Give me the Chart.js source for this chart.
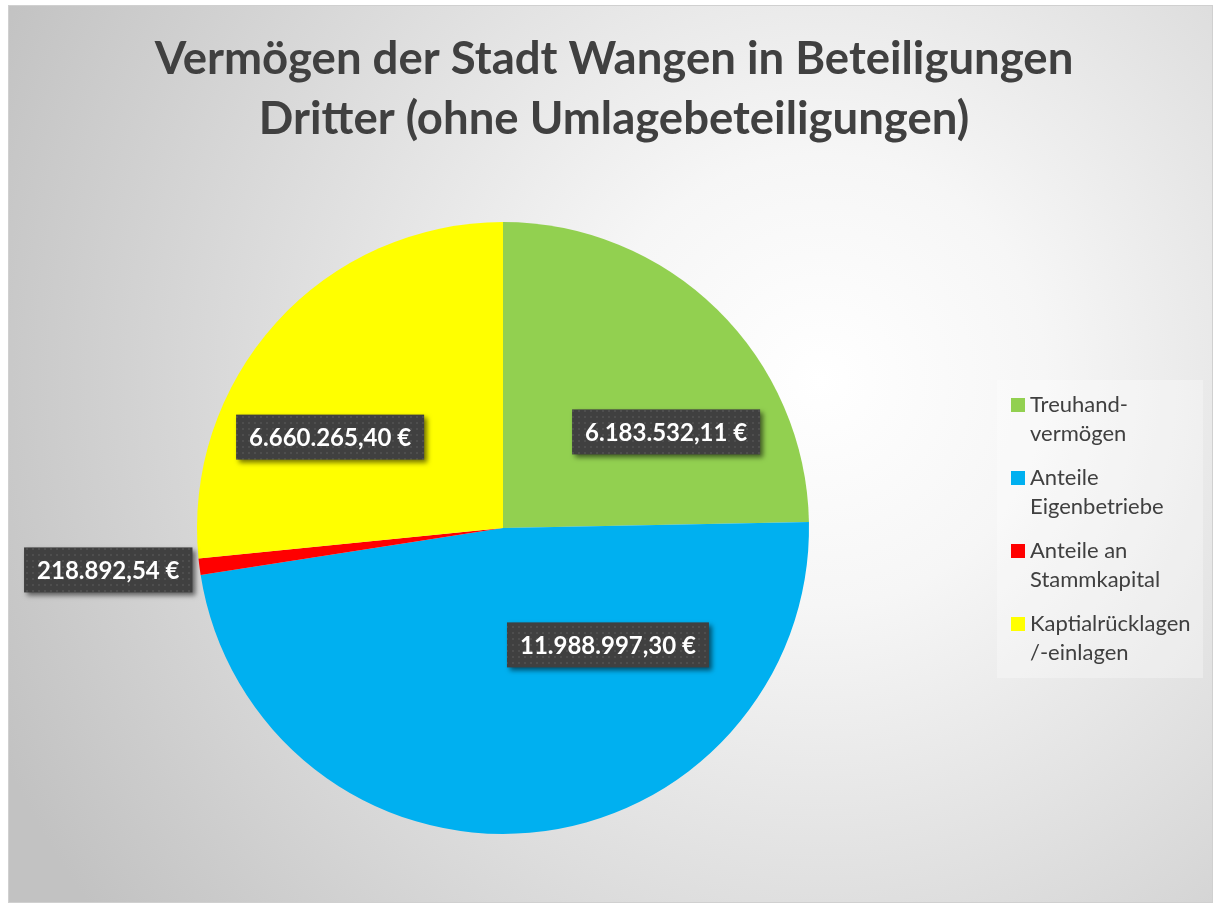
<!DOCTYPE html>
<html>
<head>
<meta charset="utf-8">
<script src="https://cdn.jsdelivr.net/npm/chart.js@4/dist/chart.umd.min.js"></script>
<style>
  html, body { margin: 0; padding: 0; background: #fff; }
  #wrap { width: 1215px; height: 906px; position: relative; }
</style>
</head>
<body>
<div id="wrap"><canvas id="pie"></canvas></div>
<script>
// chart data
var titleLines = ['Vermögen der Stadt Wangen in Beteiligungen', 'Dritter (ohne Umlagebeteiligungen)'];
var categories = [['Treuhand-', 'vermögen'], ['Anteile', 'Eigenbetriebe'], ['Anteile an', 'Stammkapital'], ['Kaptialrücklagen', '/-einlagen']];
var values = [6183532.11, 11988997.30, 218892.54, 6660265.40];
var colors = ['#92d050', '#00b0f0', '#ff0000', '#ffff00'];

// where each value label sits, relative to the pie centre, in radius units
var labelSpots = [[0.533, -0.314], [0.343, 0.382], [-1.29, 0.137], [-0.565, -0.297]];

function euro(v) {
    var parts = v.toFixed(2).split('.');
    var whole = parts[0].replace(/\B(?=(\d{3})+(?!\d))/g, '.');
    return whole + ',' + parts[1] + ' €';
}

var dotPattern = (function () {
    var c = document.createElement('canvas');
    c.width = 6; c.height = 6;
    var g = c.getContext('2d');
    g.fillStyle = '#404040';
    g.fillRect(0, 0, 6, 6);
    g.fillStyle = '#4e4e4e';
    g.fillRect(2, 2, 2, 2);
    return c;
})();

var backdrop = {
    id: 'backdrop',
    beforeDraw: function (chart) {
        var ctx = chart.ctx;
        ctx.save();
        ctx.fillStyle = '#ffffff';
        ctx.fillRect(0, 0, chart.width, chart.height);
        var grad = ctx.createRadialGradient(820, 380, 0, 820, 380, 900);
        grad.addColorStop(0, '#ffffff');
        grad.addColorStop(0.25, '#f6f6f6');
        grad.addColorStop(1, '#c2c2c2');
        ctx.fillStyle = grad;
        ctx.fillRect(8, 5, 1205, 898);
        ctx.strokeStyle = '#d0d0d0';
        ctx.lineWidth = 1;
        ctx.strokeRect(8.5, 5.5, 1204, 897);

        // title
        ctx.fillStyle = '#404040';
        ctx.font = 'bold 45.5px Lato';
        ctx.textAlign = 'center';
        ctx.textBaseline = 'middle';
        titleLines.forEach(function (t, i) {
            ctx.fillText(t, 614, 59 + i * 60);
        });
        ctx.restore();
    }
};

var valueLabels = {
    id: 'valueLabels',
    afterDraw: function (chart) {
        var ctx = chart.ctx;
        var meta = chart.getDatasetMeta(0);
        var pat = ctx.createPattern(dotPattern, 'repeat');
        ctx.save();
        ctx.font = 'bold 24px Lato';
        ctx.textAlign = 'center';
        ctx.textBaseline = 'middle';
        meta.data.forEach(function (arc, i) {
            var r = arc.outerRadius;
            var cx = arc.x + labelSpots[i][0] * r;
            var cy = arc.y + labelSpots[i][1] * r;
            var txt = euro(values[i]);
            var w = ctx.measureText(txt).width + 26;
            var h = 45;
            ctx.save();
            ctx.shadowColor = 'rgba(0,0,0,0.55)';
            ctx.shadowBlur = 5;
            ctx.shadowOffsetX = 3;
            ctx.shadowOffsetY = 3;
            ctx.fillStyle = pat;
            ctx.fillRect(cx - w / 2, cy - h / 2, w, h);
            ctx.restore();
            ctx.fillStyle = '#ffffff';
            ctx.fillText(txt, cx, cy + 1);
        });
        ctx.restore();
    }
};

var sideLegend = {
    id: 'sideLegend',
    afterDraw: function (chart) {
        var ctx = chart.ctx;
        ctx.save();
        ctx.fillStyle = 'rgba(255,255,255,0.3)';
        ctx.fillRect(997, 380, 206, 298);
        ctx.font = '22px Lato';
        ctx.textAlign = 'left';
        ctx.textBaseline = 'middle';
        chart.data.labels.forEach(function (lines, i) {
            var y = 405 + i * 73;
            ctx.fillStyle = chart.data.datasets[0].backgroundColor[i];
            ctx.fillRect(1011, y - 7, 14, 14);
            ctx.fillStyle = '#404040';
            lines.forEach(function (l, j) {
                ctx.fillText(l, 1030, y + j * 29);
            });
        });
        ctx.restore();
    }
};

var ctx = document.getElementById('pie').getContext('2d');
window.chart = new Chart(ctx, {
    type: 'pie',
    data: {
        labels: categories,
        datasets: [{
            data: values,
            backgroundColor: colors,
            borderWidth: 0
        }]
    },
    options: {
        responsive: true,
        maintainAspectRatio: false,
        animation: false,
        layout: {
            padding: { top: 222, left: 197, right: 406, bottom: 72 }
        },
        plugins: {
            legend: { display: false },
            title: { display: false },
            tooltip: { enabled: false }
        }
    },
    plugins: [backdrop, valueLabels, sideLegend]
});
</script>
</body>
</html>
